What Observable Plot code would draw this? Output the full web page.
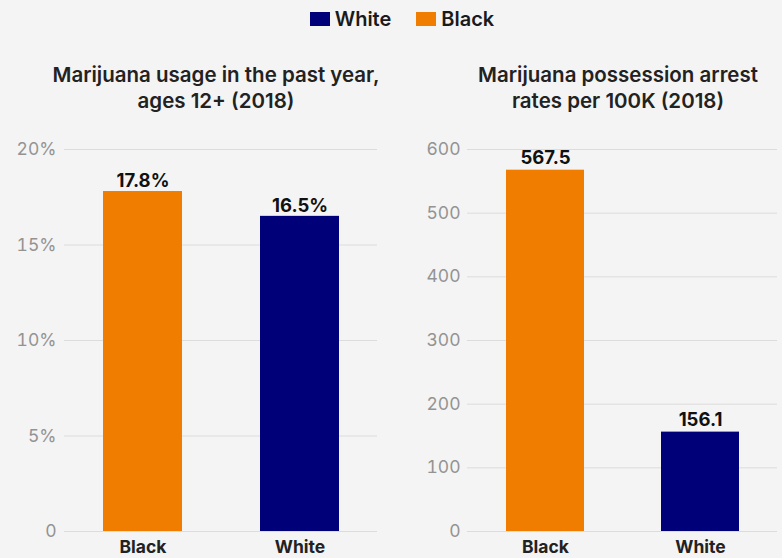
<!DOCTYPE html>
<html>
<head>
<meta charset="utf-8">
<script src="https://cdn.jsdelivr.net/npm/d3@7"></script>
<script src="https://cdn.jsdelivr.net/npm/@observablehq/plot@0.6"></script>
<style>
  html, body { margin: 0; padding: 0; background: #f4f4f4; }
  body { width: 782px; height: 558px; position: relative; overflow: hidden; font-family: Inter, "Noto Sans", sans-serif; }
  .legend { position: absolute; top: 7px; left: 11px; width: 782px; display: flex; justify-content: center; gap: 25px; font-size: 20px; font-weight: 600; color: #1a1a1a; line-height: 24px; }
  .legend span.item { display: flex; align-items: center; }
  .legend .sw { display: inline-block; width: 20px; height: 14px; margin-right: 5px; }
  .title { position: absolute; top: 62px; width: 380px; text-align: center; font-size: 20.5px; font-weight: 600; line-height: 26px; color: #222; }
  .panel { position: absolute; top: 130px; }
</style>
</head>
<body>
<div class="legend" id="legend"></div>
<div class="title" id="t1" style="left:26px;"></div>
<div class="title" id="t2" style="left:428px;"></div>
<div class="panel" id="p1" style="left:0px;"></div>
<div class="panel" id="p2" style="left:391px;"></div>
<script>
const categories = ["Black", "White"];
const legendOrder = ["White", "Black"];
const seriesColors = ["#000078", "#f07d00"]; // White, Black
const usageValues = [17.8, 16.5];
const arrestValues = [567.5, 156.1];
const usageTicks = [0, 5, 10, 15, 20];
const arrestTicks = [0, 100, 200, 300, 400, 500, 600];
const title1 = ["Marijuana usage in the past year,", "ages 12+ (2018)"];
const title2 = ["Marijuana possession arrest", "rates per 100K (2018)"];

const colorOf = c => seriesColors[legendOrder.indexOf(c)];

// legend
const leg = document.getElementById("legend");
legendOrder.forEach((k, i) => {
  const s = document.createElement("span");
  s.className = "item";
  s.innerHTML = `<span class="sw" style="background:${seriesColors[i]}"></span>${k}`;
  leg.appendChild(s);
});
document.getElementById("t1").innerHTML = title1.join("<br>");
document.getElementById("t2").innerHTML = title2.join("<br>");

function panel(values, ticks, fmtTick, fmtVal, ml, mr, tickPad, dy) {
  const data = categories.map((c, i) => ({cat: c, value: values[i], color: colorOf(c)}));
  return Plot.plot({
    width: 391, height: 428,
    marginTop: 19, marginBottom: 27, marginLeft: ml, marginRight: mr,
    style: {background: "transparent", fontFamily: "Inter, 'Noto Sans', sans-serif", overflow: "visible"},
    x: {domain: categories, paddingInner: 0.5, paddingOuter: 0.245, label: null},
    y: {domain: [ticks[0], ticks[ticks.length - 1]], label: null},
    marks: [
      Plot.gridY({ticks, stroke: "#dcdcdc", strokeOpacity: 1}),
      Plot.barY(data, {x: "cat", y: "value", fill: "color"}),
      Plot.text(data, {x: "cat", y: "value", text: d => fmtVal(d.value), dy, fontSize: 18.5, fontWeight: 700, fill: "#111"}),
      Plot.axisY({ticks, tickSize: 0, tickPadding: tickPad, tickFormat: fmtTick, fontSize: 17.5, color: "#939393", label: null}),
      Plot.axisX({tickSize: 0, tickPadding: 9, fontSize: 17.5, fontWeight: 700, color: "#222", label: null})
    ]
  });
}

document.getElementById("p1").appendChild(
  panel(usageValues, usageTicks, d => d === 0 ? "0" : d + "%", v => v.toFixed(1) + "%", 64, 14, 8, -10)
);
document.getElementById("p2").appendChild(
  panel(arrestValues, arrestTicks, d => String(d), v => v.toFixed(1), 76, 5, 7, -12)
);
</script>
</body>
</html>
